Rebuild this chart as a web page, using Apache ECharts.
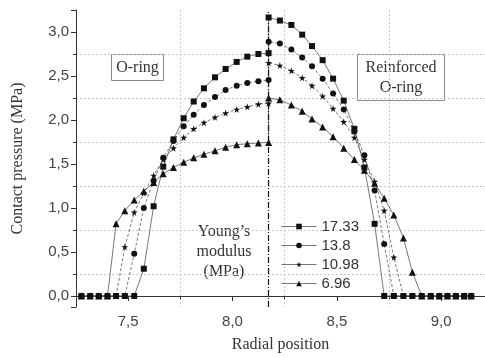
<!DOCTYPE html>
<html>
<head>
<meta charset="utf-8">
<script src="https://cdn.jsdelivr.net/npm/echarts@6/dist/echarts.min.js"></script>
<style>
  html, body { margin: 0; padding: 0; background: #fff; }
  #chart { width: 485px; height: 358px; }
</style>
</head>
<body>
<div id="chart"></div>
<script>
// radial positions of the nodes, inner half and outer half
const xLeft = [7.276, 7.318, 7.359, 7.401, 7.442, 7.484, 7.529, 7.575, 7.622, 7.668,
  7.717, 7.766, 7.814, 7.863, 7.916, 7.967, 8.020, 8.071, 8.124, 8.173];
const xRight = [8.173, 8.227, 8.282, 8.334, 8.381, 8.432, 8.482, 8.533, 8.584, 8.632,
  8.681, 8.727, 8.773, 8.819, 8.862, 8.907, 8.950, 8.991, 9.030, 9.070, 9.110, 9.144];

const divider = 8.173;

const moduli = ["17.33", "13.8", "10.98", "6.96"];

// O-ring side
const left1733 = [0, 0, 0, 0, 0, 0, 0, 0.31, 1.02, 1.47, 1.78, 2.02, 2.21, 2.36, 2.485, 2.58, 2.66, 2.72, 2.75, 2.76];
const left138 = [0, 0, 0, 0, 0, 0, 0.48, 1.0, 1.31, 1.57, 1.76, 1.93, 2.06, 2.17, 2.26, 2.34, 2.39, 2.42, 2.44, 2.455];
const left1098 = [0, 0, 0, 0, 0, 0.557, 0.95, 1.17, 1.37, 1.55, 1.68, 1.80, 1.90, 1.97, 2.03, 2.08, 2.12, 2.15, 2.18, 2.19];
const left696 = [0, 0, 0, 0, 0.82, 0.97, 1.09, 1.19, 1.29, 1.39, 1.46, 1.52, 1.57, 1.61, 1.65, 1.69, 1.72, 1.73, 1.74, 1.745];

// reinforced O-ring side
const right1733 = [3.165, 3.13, 3.08, 2.97, 2.84, 2.68, 2.47, 2.22, 1.90, 1.46, 0.82, 0, 0, 0, 0, 0, 0, 0, 0, 0, 0, 0];
const right138 = [2.89, 2.87, 2.80, 2.71, 2.61, 2.47, 2.30, 2.12, 1.87, 1.60, 1.20, 0.59, 0, 0, 0, 0, 0, 0, 0, 0, 0, 0];
const right1098 = [2.65, 2.62, 2.56, 2.48, 2.39, 2.27, 2.13, 1.98, 1.80, 1.55, 1.30, 0.97, 0.44, 0, 0, 0, 0, 0, 0, 0, 0, 0];
const right696 = [2.25, 2.23, 2.17, 2.10, 2.01, 1.92, 1.81, 1.68, 1.55, 1.43, 1.28, 1.11, 0.92, 0.66, 0.27, 0, 0, 0, 0, 0, 0, 0];

const STAR = "path://M50,0 L61,35 L98,35 L68,57 L79,91 L50,70 L21,91 L32,57 L2,35 L39,35 Z";

const serif = "Liberation Serif";
const sans = "Liberation Sans";

const toPairs = (left, right) =>
  xLeft.map((x, i) => [x, left[i]]).concat(xRight.map((x, i) => [x, right[i]]));

const styles = [
  { symbol: "rect", size: 6, dash: "solid" },
  { symbol: "circle", size: 6, dash: [3, 2] },
  { symbol: STAR, size: 7, dash: [3, 2] },
  { symbol: "triangle", size: 7, dash: "solid" },
];

const seriesData = [
  toPairs(left1733, right1733),
  toPairs(left138, right138),
  toPairs(left1098, right1098),
  toPairs(left696, right696),
];

const series = moduli.map((name, i) => ({
  name: name,
  type: "line",
  data: seriesData[i],
  symbol: styles[i].symbol,
  symbolSize: styles[i].size,
  showAllSymbol: true,
  lineStyle: { color: "#555", width: 0.8, type: styles[i].dash },
  itemStyle: { color: "#111" },
  z: 3,
}));

// dash-dot boundary between the two seals
series[0].markLine = {
  silent: true,
  symbol: "none",
  label: { show: false },
  lineStyle: { color: "#111", width: 1.2, type: [6, 2, 1, 2] },
  data: [{ xAxis: divider }],
};

const decimalComma = (v, lo, hi) => {
  if (v < lo - 1e-9 || v > hi + 1e-9) return "";
  if (Math.abs(v * 2 - Math.round(v * 2)) > 1e-6) return "";
  return v.toFixed(1).replace(".", ",");
};

const chart = echarts.init(document.getElementById("chart"));

chart.setOption({
  animation: false,
  backgroundColor: "#fff",
  grid: { left: 76, right: 0, top: 10, bottom: 51 },
  xAxis: {
    type: "value",
    min: 7.25,
    max: 9.21,
    splitNumber: 4,
    name: "Radial position",
    nameLocation: "middle",
    nameGap: 30,
    nameTextStyle: { fontFamily: serif, fontSize: 16, color: "#333" },
    axisLine: { lineStyle: { color: "#333", width: 1 } },
    axisTick: { show: true, length: 5, lineStyle: { color: "#333" } },
    minorTick: { show: true, splitNumber: 2, length: 3, lineStyle: { color: "#333" } },
    axisLabel: {
      fontFamily: sans, fontSize: 15, color: "#444", margin: 7,
      showMinLabel: false, showMaxLabel: false,
      formatter: (v) => decimalComma(v, 7.5, 9.0),
    },
    splitLine: { show: false },
    minorSplitLine: { show: true, lineStyle: { color: "#c8c8c8", type: [2, 2], width: 1 } },
  },
  yAxis: {
    type: "value",
    min: -0.125,
    max: 3.25,
    name: "Contact pressure (MPa)",
    nameLocation: "middle",
    nameGap: 50,
    nameTextStyle: { fontFamily: serif, fontSize: 16, color: "#333" },
    axisLine: { show: true, lineStyle: { color: "#333", width: 1 } },
    axisTick: { show: true, length: 5, lineStyle: { color: "#333" } },
    minorTick: { show: true, splitNumber: 2, length: 3, lineStyle: { color: "#333" } },
    axisLabel: {
      fontFamily: sans, fontSize: 15, color: "#444", margin: 7,
      showMinLabel: false, showMaxLabel: false,
      formatter: (v) => decimalComma(v, 0, 3.0),
    },
    splitLine: { show: false },
    minorSplitLine: { show: true, lineStyle: { color: "#c8c8c8", type: [2, 2], width: 1 } },
  },
  legend: {
    orient: "vertical",
    left: 276,
    top: 213,
    itemWidth: 35,
    itemHeight: 7,
    itemGap: 2,
    selectedMode: false,
    lineStyle: { type: "solid", color: "#777", width: 1 },
    textStyle: { fontFamily: sans, fontSize: 15, color: "#333", lineHeight: 17 },
    data: moduli,
  },
  graphic: [
    {
      type: "group",
      left: 111,
      top: 54,
      children: [
        { type: "rect", shape: { x: 0, y: 0, width: 52, height: 26 },
          style: { fill: "#fff", stroke: "#888", lineWidth: 1 } },
        { type: "text", x: 26, y: 13,
          style: { text: "O-ring", fontFamily: serif, fontSize: 16, fill: "#333",
            align: "center", verticalAlign: "middle" } },
      ],
    },
    {
      type: "group",
      left: 357,
      top: 54,
      children: [
        { type: "rect", shape: { x: 0, y: 0, width: 87, height: 46 },
          style: { fill: "#fff", stroke: "#888", lineWidth: 1 } },
        { type: "text", x: 43.5, y: 23,
          style: { text: "Reinforced\nO-ring", fontFamily: serif, fontSize: 16, lineHeight: 20,
            fill: "#333", align: "center", verticalAlign: "middle" } },
      ],
    },
    {
      type: "text",
      x: 224,
      y: 222,
      style: { text: "Young\u2019s\nmodulus\n(MPa)", fontFamily: serif, fontSize: 16, lineHeight: 20,
        fill: "#333", align: "center", verticalAlign: "top" },
    },
  ],
  series: series,
});
</script>
</body>
</html>
